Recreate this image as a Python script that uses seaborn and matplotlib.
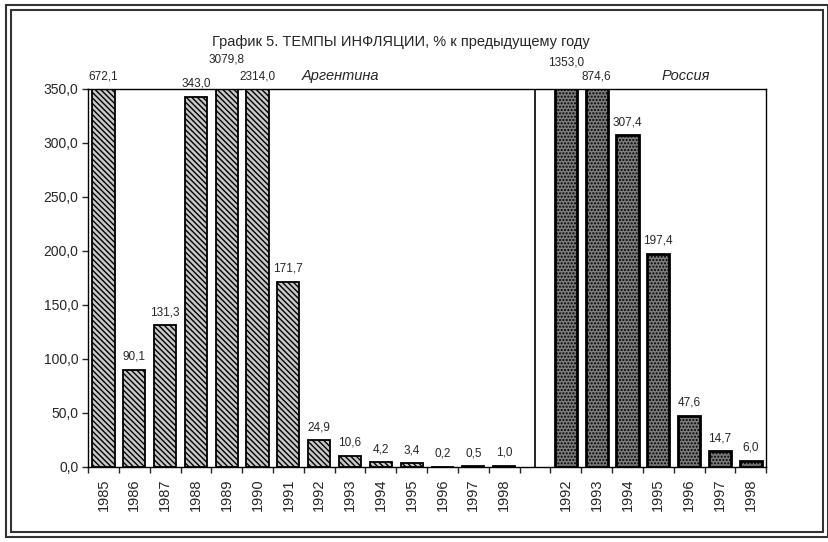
import pandas as pd
import numpy as np
import matplotlib
matplotlib.use("Agg")
import matplotlib.pyplot as plt
import seaborn as sns
from matplotlib.patches import Rectangle

# данные с графика
arg_years = ['1985', '1986', '1987', '1988', '1989', '1990', '1991',
             '1992', '1993', '1994', '1995', '1996', '1997', '1998']
arg_values = [672.1, 90.1, 131.3, 343.0, 3079.8, 2314.0, 171.7,
              24.9, 10.6, 4.2, 3.4, 0.2, 0.5, 1.0]
rus_years = ['1992', '1993', '1994', '1995', '1996', '1997', '1998']
rus_values = [1353.0, 874.6, 307.4, 197.4, 47.6, 14.7, 6.0]
y_ticks = [0, 50, 100, 150, 200, 250, 300, 350]

# ключи: Аргентина, пустой слот, Россия
keys = ['A' + y for y in arg_years] + ['gap'] + ['R' + y for y in rus_years]
df = pd.DataFrame({
    'key': keys,
    'value': arg_values + [np.nan] + rus_values,
    'country': ['Аргентина'] * len(arg_years) + ['gap'] + ['Россия'] * len(rus_years),
})
tick_text = arg_years + [''] + rus_years

sns.set_style('white')
plt.rcParams['font.family'] = ['Liberation Sans', 'DejaVu Sans']
plt.rcParams['hatch.linewidth'] = 1.0

fig = plt.figure(figsize=(8.29, 5.42), dpi=100)
ax = fig.add_axes([0.1062, 0.1384, 0.8180, 0.6974])

sns.barplot(data=df, x='key', y='value', order=keys, color='#d0d0d0',
            width=0.72, errorbar=None, ax=ax)

ax.set_ylim(0, 350)
ax.set_xlim(-0.5, len(keys) - 0.5)

# заливка и штриховка (по положению столбца)
for p in ax.patches:
    i = int(round(p.get_x() + p.get_width() / 2))
    c = df['country'].iloc[i]
    p.set_edgecolor('black')
    if c == 'Аргентина':
        p.set_facecolor('#c8c8c8')
        p.set_hatch('\\\\\\\\\\\\')
        p.set_linewidth(1.3)
    elif c == 'Россия':
        p.set_facecolor('#7c7c7c')
        p.set_hatch('.....')
        p.set_linewidth(2.0)

# подписи значений
lift = {'A1989': 12, 'R1992': 10}
for i, (k, v) in enumerate(zip(df['key'], df['value'])):
    if np.isnan(v):
        continue
    txt = f'{v:.1f}'.replace('.', ',')
    ax.annotate(txt, (i, min(v, 350)), xytext=(0, 5 + lift.get(k, 0)),
                textcoords='offset points', ha='center', va='bottom',
                fontsize=8.5, annotation_clip=False)

# разделитель
gap_pos = keys.index('gap')
ax.axvline(gap_pos, color='black', lw=1.2)

# оси
for s in ax.spines.values():
    s.set_visible(True)
    s.set_color('black')
    s.set_linewidth(1.0)
ax.set_yticks(y_ticks)
ax.set_yticklabels([f'{t:.1f}'.replace('.', ',') for t in y_ticks], fontsize=10)
ax.set_xticks(np.arange(-0.5, len(keys), 1.0))
ax.set_xticklabels([])
ax.set_xticks(np.arange(len(keys)), minor=True)
ax.set_xticklabels(tick_text, minor=True, rotation=90, fontsize=10.5)
ax.tick_params(axis='x', which='major', direction='out', length=4, width=1, bottom=True)
ax.tick_params(axis='x', which='minor', length=0, pad=8)
ax.tick_params(axis='y', direction='out', length=4, width=1, left=True, pad=3)
ax.set_xlabel('')
ax.set_ylabel('')

ax.text(7.7, 362, 'Аргентина', style='italic', fontsize=10.5, ha='center', va='center')
ax.text(18.9, 362, 'Россия', style='italic', fontsize=10.5, ha='center', va='center')

fig.text(0.484, 0.922, 'График 5. ТЕМПЫ ИНФЛЯЦИИ, % к предыдущему году',
         ha='center', va='center', fontsize=10.5)

# двойная рамка
W, H = 829, 542
fig.patches.append(Rectangle((6 / W, 5 / H), (828 - 6) / W, (537 - 5) / H,
                             transform=fig.transFigure, fill=False,
                             edgecolor='#333333', lw=1.5))
fig.patches.append(Rectangle((11 / W, 10 / H), (823 - 11) / W, (532 - 10) / H,
                             transform=fig.transFigure, fill=False,
                             edgecolor='#333333', lw=1.5))

fig.savefig('out.png', dpi=100)
